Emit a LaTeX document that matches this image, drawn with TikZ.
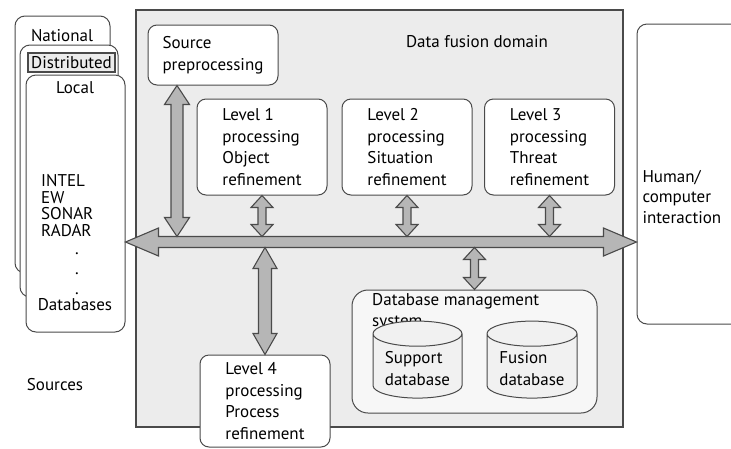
\documentclass[tikz,border=0pt]{standalone}
\usepackage{fontspec}
\setmainfont{PT Sans}
\usetikzlibrary{calc,shapes.geometric}

\definecolor{domaingray}{HTML}{ECECEC}
\definecolor{edgegray}{HTML}{4A4A4A}
\definecolor{arrowgray}{HTML}{B6B6B6}
\definecolor{dbgray}{HTML}{F1F1F1}

\newcommand{\boxfont}{\fontsize{17}{21.5}\selectfont}
\newcommand{\srcdot}{\hspace*{34pt}.}

% fat double arrow, vertical: top point, bottom point, half shaft, half head, head length
\newcommand{\fatv}[5]{%
  \path[fat] let \p1=(#1), \p2=(#2) in
    (\x1,\y1) -- (\x1+#4,\y1-#5) -- (\x1+#3,\y1-#5) -- (\x1+#3,\y2+#5)
    -- (\x1+#4,\y2+#5) -- (\x1,\y2) -- (\x1-#4,\y2+#5) -- (\x1-#3,\y2+#5)
    -- (\x1-#3,\y1-#5) -- (\x1-#4,\y1-#5) -- cycle;}
% fat double arrow, horizontal: left point, right point, half shaft, half head, head length
\newcommand{\fath}[5]{%
  \path[fat] let \p1=(#1), \p2=(#2) in
    (\x1,\y1) -- (\x1+#5,\y1+#4) -- (\x1+#5,\y1+#3) -- (\x2-#5,\y1+#3)
    -- (\x2-#5,\y1+#4) -- (\x2,\y1) -- (\x2-#5,\y1-#4) -- (\x2-#5,\y1-#3)
    -- (\x1+#5,\y1-#3) -- (\x1+#5,\y1-#4) -- cycle;}

\begin{document}
\begin{tikzpicture}[x=1pt, y=-1pt,
    box/.style={draw=edgegray, fill=white, line width=1pt, rounded corners=9pt,
      align=left, font=\boxfont},
    srcbox/.style={draw=edgegray, fill=white, line width=1pt, rounded corners=10pt},
    fat/.style={draw=edgegray, fill=arrowgray, line width=1.1pt, line join=miter},
    dbase/.style={cylinder, shape border rotate=90, draw=edgegray, fill=dbgray,
      line width=1pt, aspect=0.35, align=left, font=\boxfont},
    txt/.style={font=\boxfont, align=left}]
  \useasboundingbox (0,0) rectangle (731,448);

  % sources
  \node[srcbox, minimum width=95, minimum height=257] (national) at (62.5,144.5) {};
  \node[srcbox, minimum width=98, minimum height=252] (distributed) at (69,171) {};
  \node[srcbox, minimum width=99, minimum height=257] (local) at (75.5,203.5) {};
  \node[txt] (nationaltxt) at (62,36) {National};
  \node[txt, draw=edgegray, fill=domaingray, line width=1.2pt, inner sep=1pt,
    minimum width=87, minimum height=19] (distributedtxt) at (71.5,62.5) {Distributed};
  \node[txt] (localtxt) at (75,88) {Local};
  \node[txt, anchor=north west, inner sep=0pt, font=\fontsize{17}{16.8}\selectfont]
    (srclist) at (41,174) {INTEL\\EW\\SONAR\\RADAR\\[1pt]\srcdot\\[3pt]\srcdot\\[3pt]\srcdot};
  \node[txt] (dbs) at (75,305) {Databases};
  \node[txt] (sources) at (55,385) {Sources};

  % data fusion domain
  \node[draw=edgegray, fill=domaingray, line width=1.6pt, minimum width=487,
    minimum height=417] (domain) at (379.5,218.5) {};
  \node[txt] (domaintxt) at (477,42) {Data fusion domain};

  \node[box, minimum width=130, minimum height=60] (src) at (213,55) {Source\\preprocessing};
  \node[box, minimum width=130, minimum height=96] (l1) at (262,147)
    {Level 1\\processing\\Object\\refinement};
  \node[box, minimum width=130, minimum height=96] (l2) at (407,147)
    {Level 2\\processing\\Situation\\refinement};
  \node[box, minimum width=130, minimum height=96] (l3) at (549.5,147)
    {Level 3\\processing\\Threat\\refinement};
  \node[box, minimum width=130, minimum height=92] (l4) at (265,401)
    {Level 4\\processing\\Process\\refinement};

  \node[box, fill=white!97!black, rounded corners=16pt, minimum width=245,
    minimum height=123] (dbms) at (474.5,351.5) {};
  \node[txt, anchor=north west, inner sep=2pt] (dbmstxt) at (370,291)
    {Database management\\system};
  \node[dbase, minimum width=89, minimum height=77] (sdb) at (417.5,368.5)
    {Support\\database};
  \node[dbase, minimum width=90, minimum height=77] (fdb) at (532,368.5)
    {Fusion\\database};

  % human/computer interaction
  \node[srcbox, minimum width=125, minimum height=300] (hci) at (699.5,174) {};
  \node[txt, anchor=west, font=\fontsize{17}{20.5}\selectfont] (hcitxt) at (639,197)
    {Human/\\computer\\interaction};

  % arrows
  \coordinate (bus) at (0,242);
  \coordinate (bustop) at (0,236.5);
  \coordinate (busbot) at (0,247.5);
  \coordinate (srcx) at (177,0);
  \fath{local.east |- bus}{hci.west |- bus}{5.5pt}{14pt}{33pt}
  \fatv{srcx |- src.south}{srcx |- bustop}{6pt}{12.5pt}{19pt}
  \fatv{l1.south}{l1.south |- bustop}{4pt}{11pt}{12pt}
  \fatv{l2.south}{l2.south |- bustop}{4pt}{11pt}{12pt}
  \fatv{l3.south}{l3.south |- bustop}{4pt}{11pt}{12pt}
  \fatv{dbms.north |- busbot}{dbms.north}{4pt}{11pt}{12pt}
  \fatv{l4.north |- busbot}{l4.north}{6.5pt}{12pt}{21pt}
\end{tikzpicture}
\end{document}
